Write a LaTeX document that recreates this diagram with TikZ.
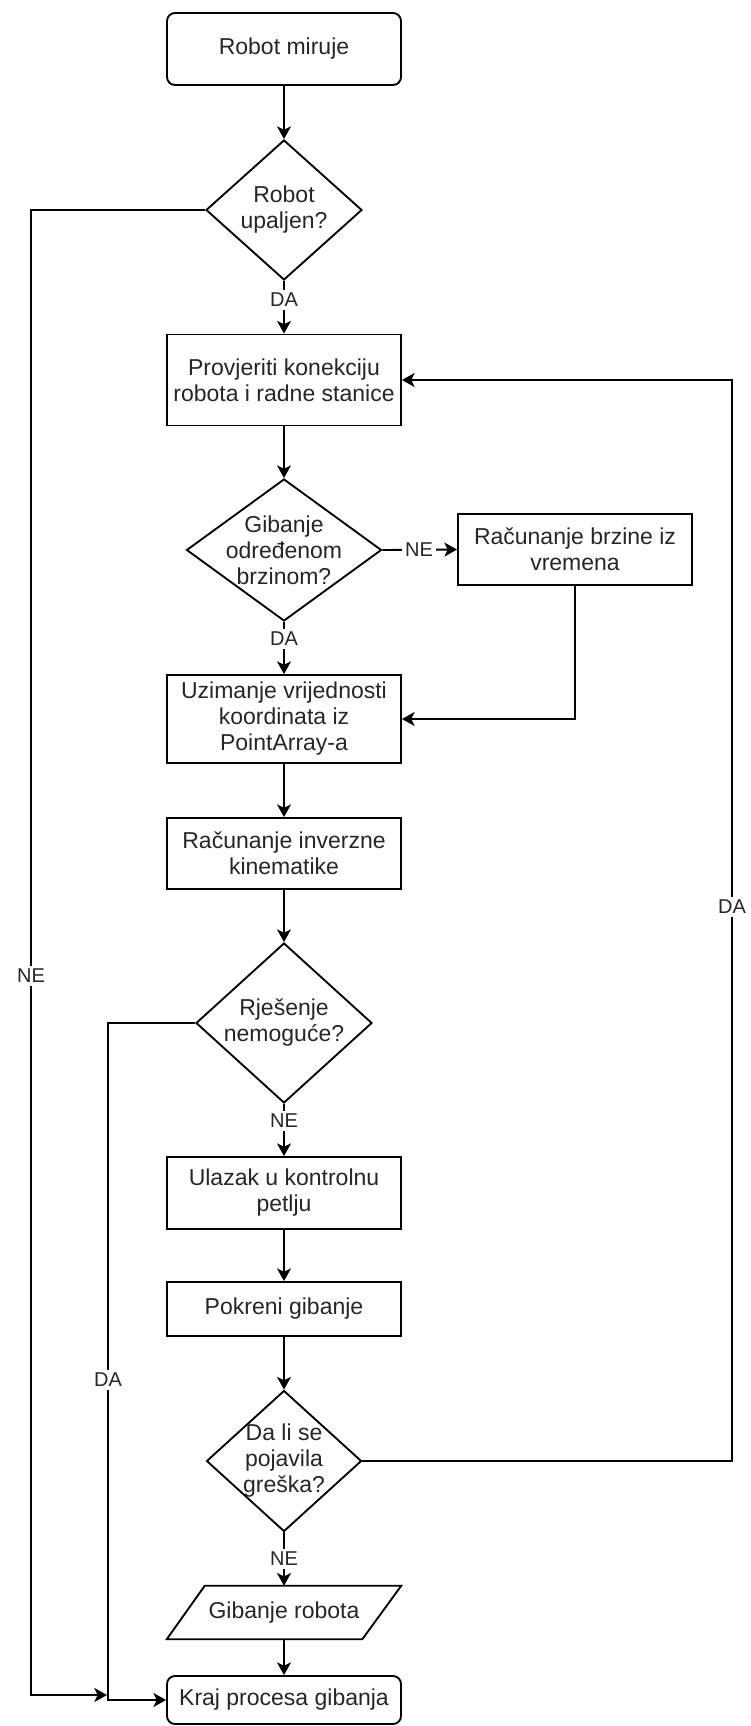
\documentclass[tikz,border=0pt]{standalone}
\usepackage{fontspec}
\setmainfont{Liberation Sans}
\usetikzlibrary{arrows.meta,shapes.geometric}
\definecolor{txt}{HTML}{262626}
\newcommand\mainfs{\fontsize{17.25pt}{19.5pt}\selectfont}
\newcommand\lblfs{\fontsize{15pt}{17pt}\selectfont}
\begin{document}
\begin{tikzpicture}[x=0.75pt,y=-0.75pt,
  box/.style={draw=black, line width=1.4pt, fill=white, rectangle, inner sep=0pt,
    minimum width=175.5pt, align=center, font=\mainfs, text=txt},
  rbox/.style={box, rounded corners=6pt},
  dia/.style={diamond, draw=black, line width=1.4pt, fill=white, inner sep=0pt},
  dtxt/.style={align=center, font=\mainfs, text=txt, inner sep=0pt},
  elbl/.style={fill=white, font=\lblfs, text=txt, inner sep=2pt},
  arr/.style={draw=black, line width=1.4pt, -{Stealth[length=9.5pt,width=10.5pt,inset=2.5pt]}},
  ln/.style={draw=black, line width=1.4pt}]

\fill[white] (0,0) rectangle (750,1726);
\useasboundingbox (0,0) rectangle (750,1726);

% nodes
\node[rbox, minimum height=54pt] (start) at (284,49) {Robot miruje};
\node[dia, minimum width=117pt, minimum height=105pt,
  label={[dtxt,name=d1t]center:{Robot\\upaljen?}}] (d1) at (284,210) {};
\node[box, minimum height=68.25pt] (b2) at (284,380) {Provjeriti konekciju\\robota i radne stanice};
\node[dia, minimum width=146.25pt, minimum height=106.5pt,
  label={[dtxt,name=d2t]center:{Gibanje\\određenom\\brzinom?}}] (d2) at (284,550) {};
\node[box, minimum height=53.25pt] (b3) at (575,549.5) {Računanje brzine iz\\vremena};
\node[box, minimum height=66pt] (b4) at (284,719) {Uzimanje vrijednosti\\koordinata iz\\PointArray-a};
\node[box, minimum height=53.25pt] (b5) at (284,853.5) {Računanje inverzne\\kinematike};
\node[dia, minimum width=132pt, minimum height=120pt,
  label={[dtxt,name=d3t]center:{Rješenje\\nemoguće?}}] (d3) at (284,1023) {};
\node[box, minimum height=54pt] (b6) at (284,1193) {Ulazak u kontrolnu\\petlju};
\node[box, minimum height=40.5pt] (b7) at (284,1309) {Pokreni gibanje};
\node[dia, minimum width=116.25pt, minimum height=105.75pt,
  label={[dtxt,name=d4t]center:{Da li se\\pojavila\\greška?}}] (d4) at (284,1461) {};
\node[inner sep=0pt, minimum width=175.5pt, minimum height=39.75pt, font=\mainfs, text=txt] (par) at (284,1612.5) {};
\draw[ln, line join=miter] ([xshift=28.5pt]par.north west) -- (par.north east)
  -- ([xshift=-29.25pt]par.south east) -- (par.south west) -- cycle;
\node[font=\mainfs, text=txt, inner sep=0pt] (part) at (par.center) {Gibanje robota};
\node[rbox, minimum height=36pt] (end) at (284,1700) {Kraj procesa gibanja};

% helper coordinates
\coordinate (c1) at (31,1695);
\coordinate (neend) at (107,1695);
\coordinate (c2) at (108,1700);
\coordinate (c4) at (732,380);

% connectors
\draw[arr] (start.south) -- (d1.north);
\draw[arr] (d1.west) -| (c1) -- (neend);
\draw[arr] (d1.south) -- (b2.north);
\draw[arr] (b2.south) -- (d2.north);
\draw[arr] (d2.east) -- (b3.west);
\draw[arr] (d2.south) -- (b4.north);
\draw[arr] (b3.south) |- (b4.east);
\draw[arr] (b4.south) -- (b5.north);
\draw[arr] (b5.south) -- (d3.north);
\draw[arr] (d3.west) -| (c2) -- (end.west);
\draw[arr] (d3.south) -- (b6.north);
\draw[arr] (b6.south) -- (b7.north);
\draw[arr] (b7.south) -- (d4.north);
\draw[arr] (d4.east) -| (c4) -- (b2.east);
\draw[arr] (d4.south) -- (par.north);
\draw[arr] (par.south) -- (end.north);

% edge labels
\node[elbl] (l1) at (284,300) {DA};
\node[elbl] (l2) at (419,550) {NE};
\node[elbl] (l3) at (284,639) {DA};
\node[elbl] (l4) at (284,1121) {NE};
\node[elbl] (l5) at (284,1559) {NE};
\node[elbl] (l6) at (31,976) {NE};
\node[elbl] (l7) at (108,1380) {DA};
\node[elbl] (l8) at (732,907) {DA};
\end{tikzpicture}
\end{document}
